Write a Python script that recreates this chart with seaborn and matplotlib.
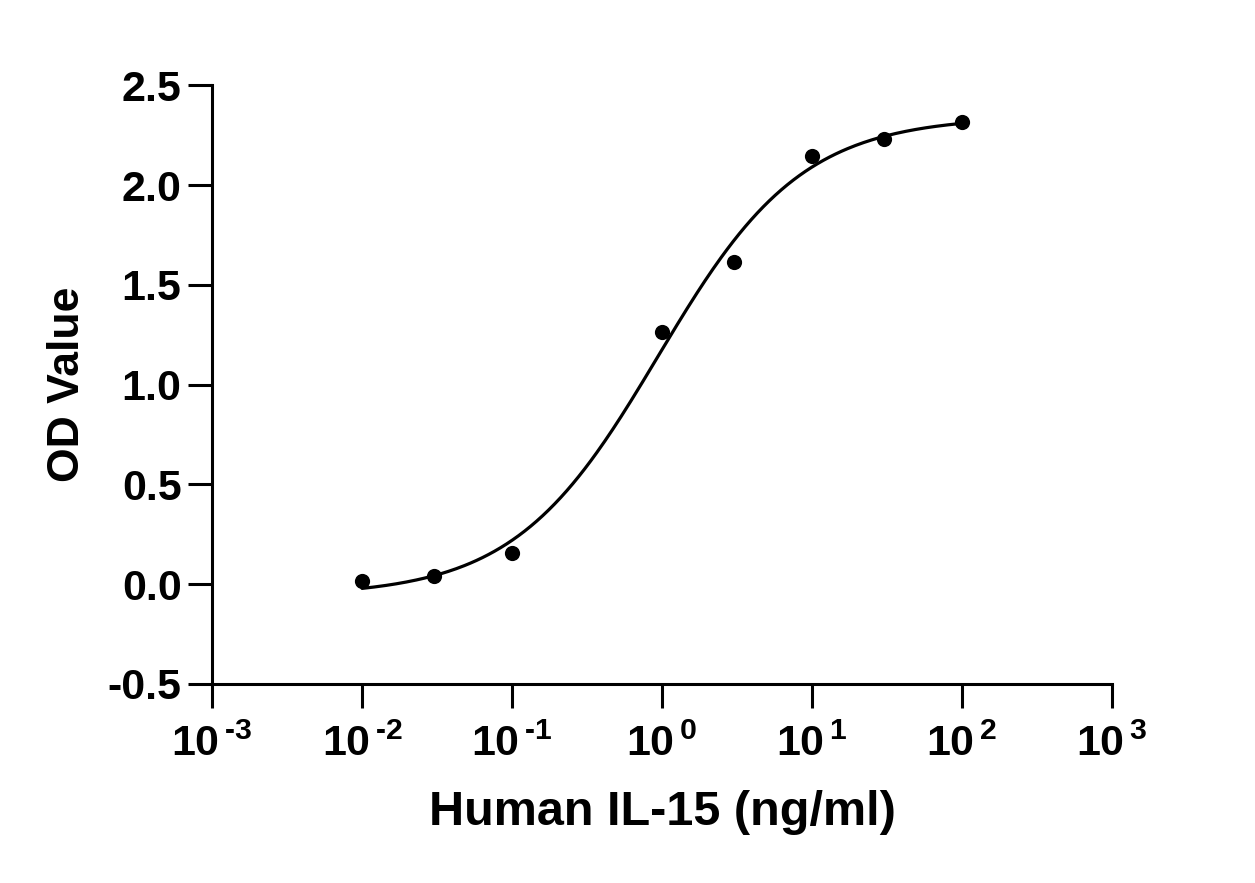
import numpy as np
import pandas as pd
import matplotlib
matplotlib.use("Agg")
import matplotlib.pyplot as plt
import seaborn as sns

# dose-response points
conc = [0.01, 0.03, 0.1, 1, 3, 10, 30, 100]
od = [0.016, 0.042, 0.156, 1.263, 1.613, 2.144, 2.229, 2.316]

x_ticks = [1e-3, 1e-2, 1e-1, 1e0, 1e1, 1e2, 1e3]
x_exps = ["-3", "-2", "-1", "0", "1", "2", "3"]
y_ticks = [-0.5, 0.0, 0.5, 1.0, 1.5, 2.0, 2.5]
y_labels = ["-0.5", "0.0", "0.5", "1.0", "1.5", "2.0", "2.5"]


def four_pl(p, lx):
    bottom, top, logc, hill = p
    return bottom + (top - bottom) / (1 + 10 ** ((logc - lx) * hill))


def fit_4pl(lx, y, p0, n_iter=300):
    # plain damped Gauss-Newton, numeric jacobian
    p = np.array(p0, float)
    for _ in range(n_iter):
        r = y - four_pl(p, lx)
        J = np.empty((len(lx), len(p)))
        for i in range(len(p)):
            dp = np.zeros_like(p)
            dp[i] = 1e-6
            J[:, i] = (four_pl(p + dp, lx) - four_pl(p - dp, lx)) / 2e-6
        step, *_ = np.linalg.lstsq(J, r, rcond=None)
        p += 0.5 * step
        if np.abs(step).max() < 1e-10:
            break
    return p


df = pd.DataFrame({"conc": conc, "od": od})
params = fit_4pl(np.log10(df["conc"].values), df["od"].values, [-0.04, 2.33, -0.05, 1.1])

fit_x = np.logspace(np.log10(min(conc)), np.log10(max(conc)), 300)
fit_df = pd.DataFrame({"conc": fit_x, "od": four_pl(params, np.log10(fit_x))})

sns.set_style("ticks")
plt.rcParams["font.family"] = ["Liberation Sans", "DejaVu Sans"]
plt.rcParams["font.weight"] = "bold"
plt.rcParams["mathtext.fontset"] = "custom"
plt.rcParams["mathtext.rm"] = "Liberation Sans:bold"
plt.rcParams["mathtext.bf"] = "Liberation Sans:bold"
plt.rcParams["axes.unicode_minus"] = False

fig = plt.figure(figsize=(12.55, 8.83), dpi=100)
ax = fig.add_axes([0.169, 0.2254, 0.717, 0.678])

sns.lineplot(data=fit_df, x="conc", y="od", color="black", linewidth=2.3, ax=ax)
sns.scatterplot(data=df, x="conc", y="od", color="black", s=120, edgecolor="black",
                linewidth=0, ax=ax, zorder=3)

ax.set_xscale("log")
ax.set_xlim(1e-3, 1e3)
ax.set_ylim(-0.5, 2.5)
ax.set_xticks(x_ticks)
ax.set_xticklabels([r"$\mathbf{10}^{\,\text{%s}}$" % e for e in x_exps])
ax.xaxis.set_minor_locator(matplotlib.ticker.NullLocator())
ax.set_yticks(y_ticks)
ax.set_yticklabels(y_labels)

for side in ["top", "right"]:
    ax.spines[side].set_visible(False)
for side in ["left", "bottom"]:
    ax.spines[side].set_linewidth(2.2)
    ax.spines[side].set_color("black")

ax.tick_params(axis="both", direction="out", length=17, width=2.2, colors="black")
ax.tick_params(axis="y", pad=5, labelsize=31)
ax.tick_params(axis="x", pad=12, labelsize=31)

ax.set_xlabel("Human IL-15 (ng/ml)", fontsize=35, fontweight="bold", color="black",
              labelpad=18)
ax.set_ylabel("OD Value", fontsize=32, fontweight="bold", color="black", labelpad=14)

fig.savefig("out.png", dpi=100)
